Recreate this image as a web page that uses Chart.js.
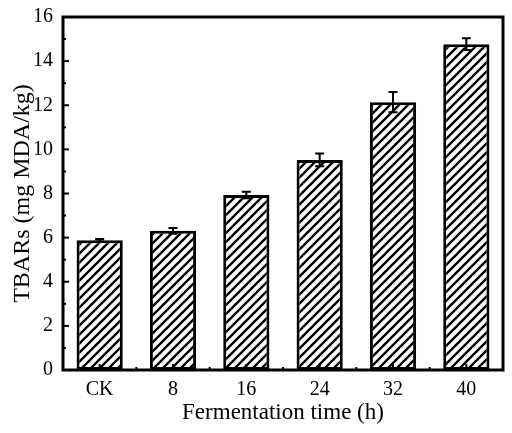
<!DOCTYPE html>
<html>
<head>
<meta charset="utf-8">
<script src="https://cdn.jsdelivr.net/npm/chart.js@4"></script>
<style>
  html, body { margin: 0; padding: 0; background: #fff; }
  #wrap { width: 512px; height: 433px; }
</style>
</head>
<body>
<div id="wrap"><canvas id="tbarsChart" width="512" height="433"></canvas></div>
<script>
// TBARs vs fermentation time
const categories = ['CK', '8', '16', '24', '32', '40'];
const tbarsValues = [5.88, 6.31, 7.93, 9.52, 12.14, 14.77];
const tbarsErrors = [0.06, 0.13, 0.15, 0.29, 0.46, 0.27];
const yTicks = [0, 2, 4, 6, 8, 10, 12, 14, 16];

const FONT = "'Liberation Serif', 'Times New Roman', serif";

// diagonal hatch pattern for bars
function makeHatch() {
    const size = 9;
    const c = document.createElement('canvas');
    c.width = size;
    c.height = size;
    const g = c.getContext('2d');
    g.fillStyle = '#fff';
    g.fillRect(0, 0, size, size);
    g.strokeStyle = '#000';
    g.lineWidth = 2.4;
    g.beginPath();
    g.moveTo(-2, size + 2);
    g.lineTo(size + 2, -2);
    g.moveTo(-2 - size, size + 2);
    g.lineTo(2, -2);
    g.moveTo(size - 2, size + 2);
    g.lineTo(size * 2 + 2, -2);
    g.stroke();
    return g.createPattern(c, 'repeat');
}

// error bars, frame and inward ticks
const decorPlugin = {
    id: 'decor',
    afterDatasetsDraw(chart) {
        const ctx = chart.ctx;
        const x = chart.scales.x;
        const y = chart.scales.y;
        const meta = chart.getDatasetMeta(0);
        ctx.save();
        ctx.strokeStyle = '#000';
        ctx.lineWidth = 2;
        meta.data.forEach((bar, i) => {
            const v = tbarsValues[i];
            const e = tbarsErrors[i];
            const top = y.getPixelForValue(v + e);
            const bot = y.getPixelForValue(v - e);
            const cx = bar.x;
            ctx.beginPath();
            ctx.moveTo(cx, top);
            ctx.lineTo(cx, bot);
            ctx.moveTo(cx - 4.5, top);
            ctx.lineTo(cx + 4.5, top);
            ctx.moveTo(cx - 4.5, bot);
            ctx.lineTo(cx + 4.5, bot);
            ctx.stroke();
        });

        const area = chart.chartArea;
        // frame
        ctx.lineWidth = 3;
        ctx.strokeRect(area.left, area.top, area.right - area.left, area.bottom - area.top);

        // y ticks (inward), major even, minor odd
        ctx.lineWidth = 2;
        for (let v = 1; v < 16; v++) {
            const py = y.getPixelForValue(v);
            const len = v % 2 === 0 ? 6 : 3;
            ctx.beginPath();
            ctx.moveTo(area.left, py);
            ctx.lineTo(area.left + len, py);
            ctx.stroke();
        }
        // x ticks (inward)
        const step = (area.right - area.left) / categories.length;
        categories.forEach((c, i) => {
            const px = x.getPixelForValue(i);
            ctx.beginPath();
            ctx.moveTo(px, area.bottom);
            ctx.lineTo(px, area.bottom - 6);
            ctx.stroke();
            if (i > 0) {
                const mx = px - step / 2;
                ctx.beginPath();
                ctx.moveTo(mx, area.bottom);
                ctx.lineTo(mx, area.bottom - 3);
                ctx.stroke();
            }
        });
        ctx.restore();
    }
};

const ctx = document.getElementById('tbarsChart').getContext('2d');
new Chart(ctx, {
    type: 'bar',
    data: {
        labels: categories,
        datasets: [{
            label: 'TBARs',
            data: tbarsValues,
            backgroundColor: makeHatch(),
            borderColor: '#000',
            borderWidth: 3,
            borderSkipped: false,
            categoryPercentage: 1,
            barPercentage: 0.63
        }]
    },
    options: {
        responsive: false,
        animation: false,
        devicePixelRatio: 1,
        layout: { padding: { top: 17, right: 9, left: 0, bottom: 0 } },
        plugins: {
            legend: { display: false },
            tooltip: { enabled: false }
        },
        scales: {
            x: {
                grid: { display: false, drawTicks: false },
                border: { display: false },
                ticks: {
                    color: '#000',
                    padding: 8,
                    font: { family: FONT, size: 20 }
                },
                title: {
                    display: true,
                    text: 'Fermentation time (h)',
                    color: '#000',
                    padding: { top: 0, bottom: 6 },
                    font: { family: FONT, size: 23 }
                },
                afterFit(scale) { scale.height = 63; }
            },
            y: {
                min: 0,
                max: 16,
                afterBuildTicks(scale) {
                    scale.ticks = yTicks.map(v => ({ value: v }));
                },
                grid: { display: false, drawTicks: false },
                border: { display: false },
                ticks: {
                    color: '#000',
                    padding: 10,
                    font: { family: FONT, size: 20 }
                },
                title: {
                    display: true,
                    text: 'TBARs (mg MDA/kg)',
                    color: '#000',
                    padding: { top: 8, bottom: 0 },
                    font: { family: FONT, size: 24 }
                },
                afterFit(scale) {
                    scale.width = 63;
                    scale.paddingTop = 0;
                    scale.paddingBottom = 0;
                }
            }
        }
    },
    plugins: [decorPlugin]
});
</script>
</body>
</html>
